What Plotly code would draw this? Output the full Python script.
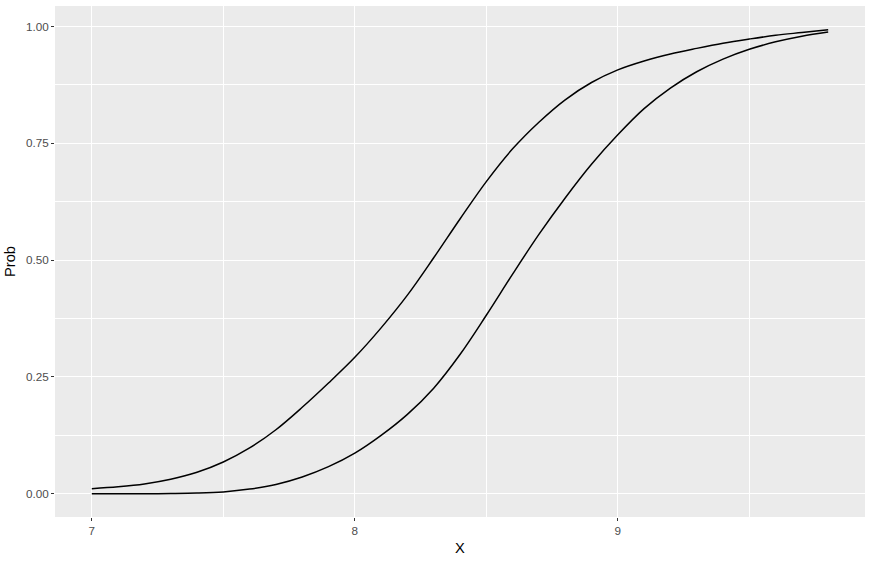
import plotly.graph_objects as go

# curve values
x_vals = [7.0, 7.1, 7.2, 7.3, 7.4, 7.5, 7.6, 7.7, 7.8, 7.9, 8.0, 8.1, 8.2, 8.3, 8.4,
          8.5, 8.6, 8.7, 8.8, 8.9, 9.0, 9.1, 9.2, 9.3, 9.4, 9.5, 9.6, 9.7, 9.8]
prob_upper = [0.011, 0.015, 0.021, 0.031, 0.046, 0.068, 0.098, 0.137, 0.185, 0.237,
              0.292, 0.355, 0.425, 0.505, 0.588, 0.668, 0.738, 0.795, 0.843, 0.880,
              0.907, 0.926, 0.941, 0.953, 0.964, 0.973, 0.981, 0.987, 0.993]
prob_lower = [0.000, 0.000, 0.000, 0.0005, 0.0015, 0.004, 0.010, 0.020, 0.036, 0.058,
              0.087, 0.125, 0.170, 0.226, 0.298, 0.382, 0.470, 0.555, 0.633, 0.705,
              0.768, 0.824, 0.868, 0.903, 0.930, 0.951, 0.967, 0.979, 0.988]
x_ticks = [7, 8, 9]
y_ticks = [0.0, 0.25, 0.5, 0.75, 1.0]
y_ticktext = ["0.00", "0.25", "0.50", "0.75", "1.00"]

fig = go.Figure()
for yv in (prob_upper, prob_lower):
    fig.add_trace(go.Scatter(x=x_vals, y=yv, mode="lines",
                             line=dict(color="black", width=1.5, shape="spline", smoothing=1),
                             showlegend=False, hoverinfo="skip"))

axis_common = dict(showgrid=True, gridcolor="white", gridwidth=1.1, zeroline=False,
                   showline=False, ticks="outside", ticklen=3, tickwidth=1, tickcolor="#333333",
                   tickfont=dict(size=11.7, color="#4D4D4D"), automargin=False)

fig.update_xaxes(range=[6.86, 9.94], tickvals=x_ticks, title=dict(text="X", font=dict(size=14.7, color="black"), standoff=6),
                 minor=dict(showgrid=True, gridcolor="white", gridwidth=0.5, tick0=7.5, dtick=1, ticks=""),
                 **axis_common)
fig.update_yaxes(range=[-0.0497, 1.0437], tickvals=y_ticks, ticktext=y_ticktext,
                 title=dict(text="Prob", font=dict(size=14.7, color="black"), standoff=6),
                 minor=dict(showgrid=True, gridcolor="white", gridwidth=0.5, tick0=0.125, dtick=0.25, ticks=""),
                 **axis_common)

fig.update_layout(width=872, height=561, autosize=False,
                  margin=dict(l=55, r=7, t=6, b=44),
                  plot_bgcolor="#EBEBEB", paper_bgcolor="white",
                  font=dict(family="Liberation Sans, Arial, sans-serif"))

# page body has a default 8px margin; drop it so the chart sits at the window corner
fig.write_html("out.html", config={"displayModeBar": False},
               post_script="document.body.style.margin='0';")
